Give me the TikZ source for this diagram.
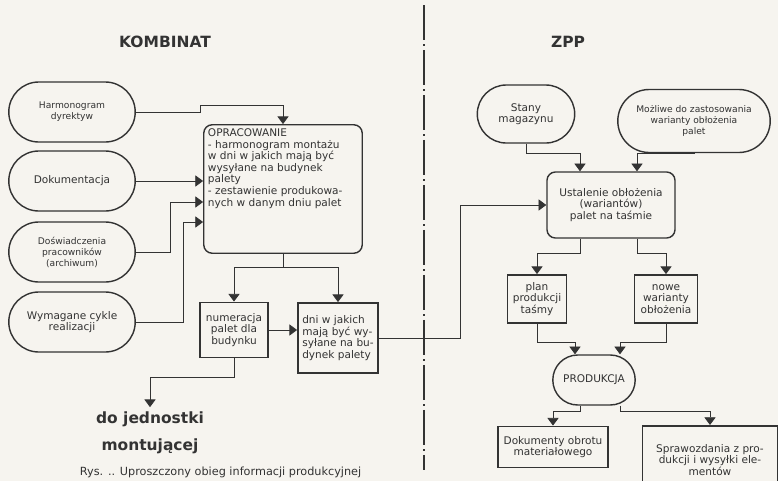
\documentclass[tikz,border=0pt]{standalone}
\usepackage{fontspec}
\setmainfont{DejaVu Sans}
\usetikzlibrary{arrows.meta,shapes.misc}
\definecolor{ink}{HTML}{333333}
\definecolor{paper}{HTML}{F6F4EF}

\begin{document}
\begin{tikzpicture}[x=0.025cm, y=-0.025cm, every node/.style={font=\fontsize{7.5}{8.2}\selectfont, text=ink},
  small/.style={font=\fontsize{6.5}{7.8}\selectfont},
  pill/.style={draw=ink, rounded rectangle, line width=1pt, align=center, inner sep=2pt},
  card/.style={draw=ink, rounded corners=6pt, line width=1pt, align=center, inner sep=2pt},
  sheet/.style={draw=ink, line width=1.3pt, align=center, inner sep=1.5pt},
  flow/.style={draw=ink, line width=0.6pt, -{Triangle[width=8pt,length=5.5pt]}}]
\useasboundingbox[fill=paper] (0,0) rectangle (778,481);
% border between the two sides
\draw[ink, line width=1.2pt, dash pattern=on 25pt off 3pt on 1pt off 3pt] (424,5) -- (424,470);
\node[font=\fontsize{11}{13}\selectfont\bfseries] (kom) at (165,42) {KOMBINAT};
\node[font=\fontsize{11}{13}\selectfont\bfseries] (zpp) at (568,42) {ZPP};
% KOMBINAT inputs
\node[pill, small, minimum width=3.3cm, minimum height=1.5cm] (harm) at (72,112) {Harmonogram\\dyrektyw};
\node[pill, minimum width=3.3cm, minimum height=1.5cm] (dok) at (72,181) {Dokumentacja};
\node[pill, small, minimum width=3.3cm, minimum height=1.5cm] (dosw) at (72,252) {Doświadczenia\\pracowników\\(archiwum)};
\node[pill, minimum width=3.3cm, minimum height=1.5cm] (wym) at (72,322) {Wymagane cykle\\realizacji};
\node[card, inner sep=3pt] (opr) at (283,189) {\parbox[c][3.0cm][t]{3.75cm}{\raggedright OPRACOWANIE\\- harmonogram montażu\\w dni w jakich mają być\\wysyłane na budynek\\palety\\- zestawienie produkowa-\\nych w danym dniu palet}};
\node[sheet, minimum width=1.7cm, minimum height=1.375cm] (num) at (234,330) {numeracja\\palet dla\\budynku};
\node[sheet, minimum width=2cm, minimum height=1.75cm, align=left] (dni) at (338,338) {dni w jakich\\mają być wy-\\syłane na bu-\\dynek palety};
\node[font=\fontsize{11}{19}\selectfont\bfseries, align=center] (dojed) at (150,433) {do jednostki\\montującej};
\draw[flow] (harm.east) -| (200,105) -| (opr.north);
\draw[flow] (dok.east) -- (opr.west |- 0,181);
\draw[flow] (dosw.east) -| (170,202) -- (opr.west |- 0,202);
\draw[flow] (wym.east) -| (183,222) -- (opr.west |- 0,222);
\draw[flow] (opr.south) -- (283,267) -| (num.north);
\draw[flow] (283,267) -| (dni.north);
\draw[flow] (num.east) -- (dni.west |- num.east);
\draw[flow] (num.south) -- (234,377) -| (dojed.north);
% ZPP side
\node[pill, minimum width=2.575cm, minimum height=1.45cm] (stany) at (526,114) {Stany\\magazynu};
\node[pill, small, minimum width=3.95cm, minimum height=1.575cm] (mozl) at (694,121) {Możliwe do zastosowania\\warianty obłożenia\\palet};
\node[card, minimum width=3.2cm, minimum height=1.65cm] (ust) at (611,205) {Ustalenie obłożenia\\(wariantów)\\palet na taśmie};
\node[sheet, minimum width=1.475cm, minimum height=1.2cm] (plan) at (537,299) {plan\\produkcji\\taśmy};
\node[sheet, minimum width=1.575cm, minimum height=1.2cm] (nowe) at (666,299) {nowe\\warianty\\obłożenia};
\node[pill, minimum width=2.2cm, minimum height=1.25cm] (prod) at (594,380) {PRODUKCJA};
\node[sheet, minimum width=2.75cm, minimum height=1.025cm] (dokm) at (553,447) {Dokumenty obrotu\\materiałowego};
\node[sheet, minimum width=3.375cm, minimum height=1.7cm, anchor=north] (spr) at (710,425) {Sprawozdania z pro-\\dukcji i wysyłki ele-\\mentów};
\draw[flow] (dni.east) -| (460,205) -- (ust.west);
\draw[flow] (stany.south) |- (580,153) -- (580,0 |- ust.north);
\draw[flow] (mozl.south) |- (637,153) -- (637,0 |- ust.north);
\draw[flow] (580,0 |- ust.south) |- (plan.north |- 0,253) -- (plan.north);
\draw[flow] (637,0 |- ust.south) |- (nowe.north |- 0,253) -- (nowe.north);
\draw[flow] (plan.south) |- (575,342) -- (575,0 |- prod.north);
\draw[flow] (nowe.south) |- (620,342) -- (620,0 |- prod.north);
\draw[flow] (580,0 |- prod.south) |- (dokm.north |- 0,411) -- (dokm.north);
\draw[flow] (620,0 |- prod.south) |- (spr.north |- 0,411) -- (spr.north);
% caption
\node[font=\fontsize{8}{10}\selectfont, anchor=west] (cap) at (75,472) {Rys. .. Uproszczony obieg informacji produkcyjnej};
\end{tikzpicture}
\end{document}
